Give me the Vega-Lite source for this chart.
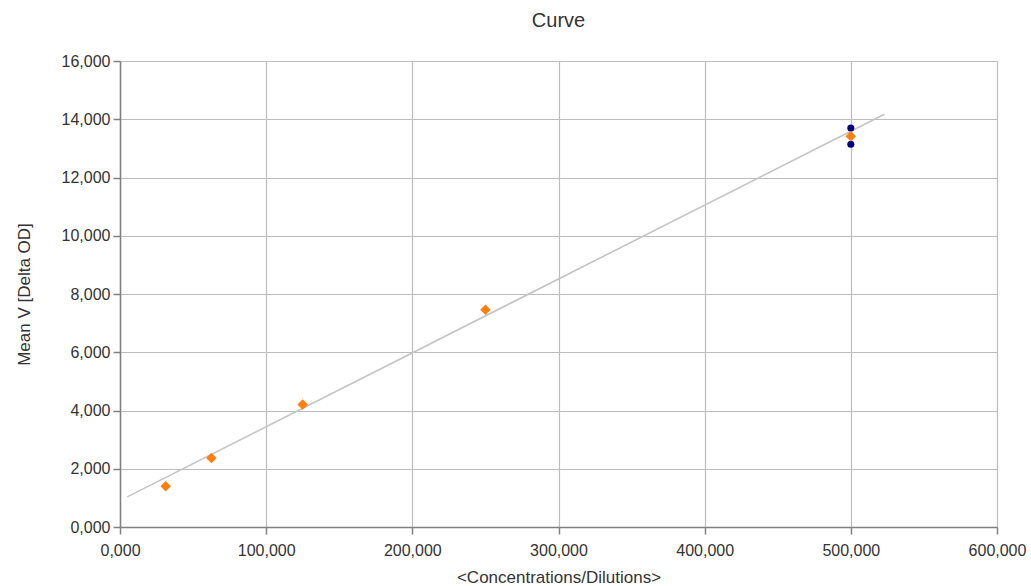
{
  "$schema": "https://vega.github.io/schema/vega-lite/v6.json",
  "autosize": "none",
  "padding": {"left": 120, "top": 61, "right": 34, "bottom": 59},
  "width": 877,
  "height": 466,
  "background": "white",
  "title": {
    "text": "Curve",
    "fontSize": 20,
    "font": "Liberation Sans",
    "fontWeight": "normal",
    "color": "#333333",
    "offset": 6,
    "baseline": "alphabetic"
  },
  "config": {
    "view": {"stroke": "#bdbdbd"},
    "axis": {
      "labelFont": "Liberation Sans",
      "titleFont": "Liberation Sans",
      "labelFontSize": 16,
      "titleFontSize": 17,
      "titleFontWeight": "normal",
      "labelColor": "#333333",
      "titleColor": "#333333",
      "gridColor": "#bdbdbd",
      "gridWidth": 1.2,
      "domainColor": "#808080",
      "domainWidth": 1.5,
      "tickColor": "#808080",
      "tickWidth": 1.5,
      "tickSize": 7,
      "labelPadding": 3,
      "labelFlush": false
    }
  },
  "datasets": {
    "points": [
      {"conc": 31250, "od": 1400, "series": "Standard"},
      {"conc": 62500, "od": 2370, "series": "Standard"},
      {"conc": 125000, "od": 4210, "series": "Standard"},
      {"conc": 250000, "od": 7460, "series": "Standard"},
      {"conc": 500000, "od": 13420, "series": "Standard"},
      {"conc": 500000, "od": 13700, "series": "Replicate"},
      {"conc": 500000, "od": 13140, "series": "Replicate"}
    ],
    "fit": [
      {"conc": 5000, "od": 1035},
      {"conc": 523000, "od": 14170}
    ]
  },
  "layer": [
    {
      "data": {"name": "fit"},
      "mark": {"type": "line", "color": "#c4c4c4", "strokeWidth": 1.6},
      "encoding": {
        "x": {
          "field": "conc",
          "type": "quantitative",
          "scale": {"domain": [0, 600000], "nice": false},
          "axis": {
            "title": "<Concentrations/Dilutions>",
            "values": [0, 100000, 200000, 300000, 400000, 500000, 600000],
            "labelExpr": "datum.value === 0 ? '0,000' : format(datum.value, ',')",
            "labelPadding": 8,
            "titlePadding": 11
          }
        },
        "y": {
          "field": "od",
          "type": "quantitative",
          "scale": {"domain": [0, 16000], "nice": false},
          "axis": {
            "title": "Mean V [Delta OD]",
            "values": [0, 2000, 4000, 6000, 8000, 10000, 12000, 14000, 16000],
            "labelExpr": "datum.value === 0 ? '0,000' : format(datum.value, ',')",
            "titlePadding": 28
          }
        }
      }
    },
    {
      "data": {"name": "points"},
      "transform": [{"filter": "datum.series === 'Replicate'"}],
      "mark": {"type": "point", "shape": "circle", "filled": true, "size": 50, "color": "#00007f", "opacity": 1},
      "encoding": {
        "x": {"field": "conc", "type": "quantitative"},
        "y": {"field": "od", "type": "quantitative"}
      }
    },
    {
      "data": {"name": "points"},
      "transform": [{"filter": "datum.series === 'Standard'"}],
      "mark": {"type": "point", "shape": "diamond", "filled": true, "size": 110, "color": "#ff7f0e", "opacity": 1},
      "encoding": {
        "x": {"field": "conc", "type": "quantitative"},
        "y": {"field": "od", "type": "quantitative"}
      }
    }
  ]
}
